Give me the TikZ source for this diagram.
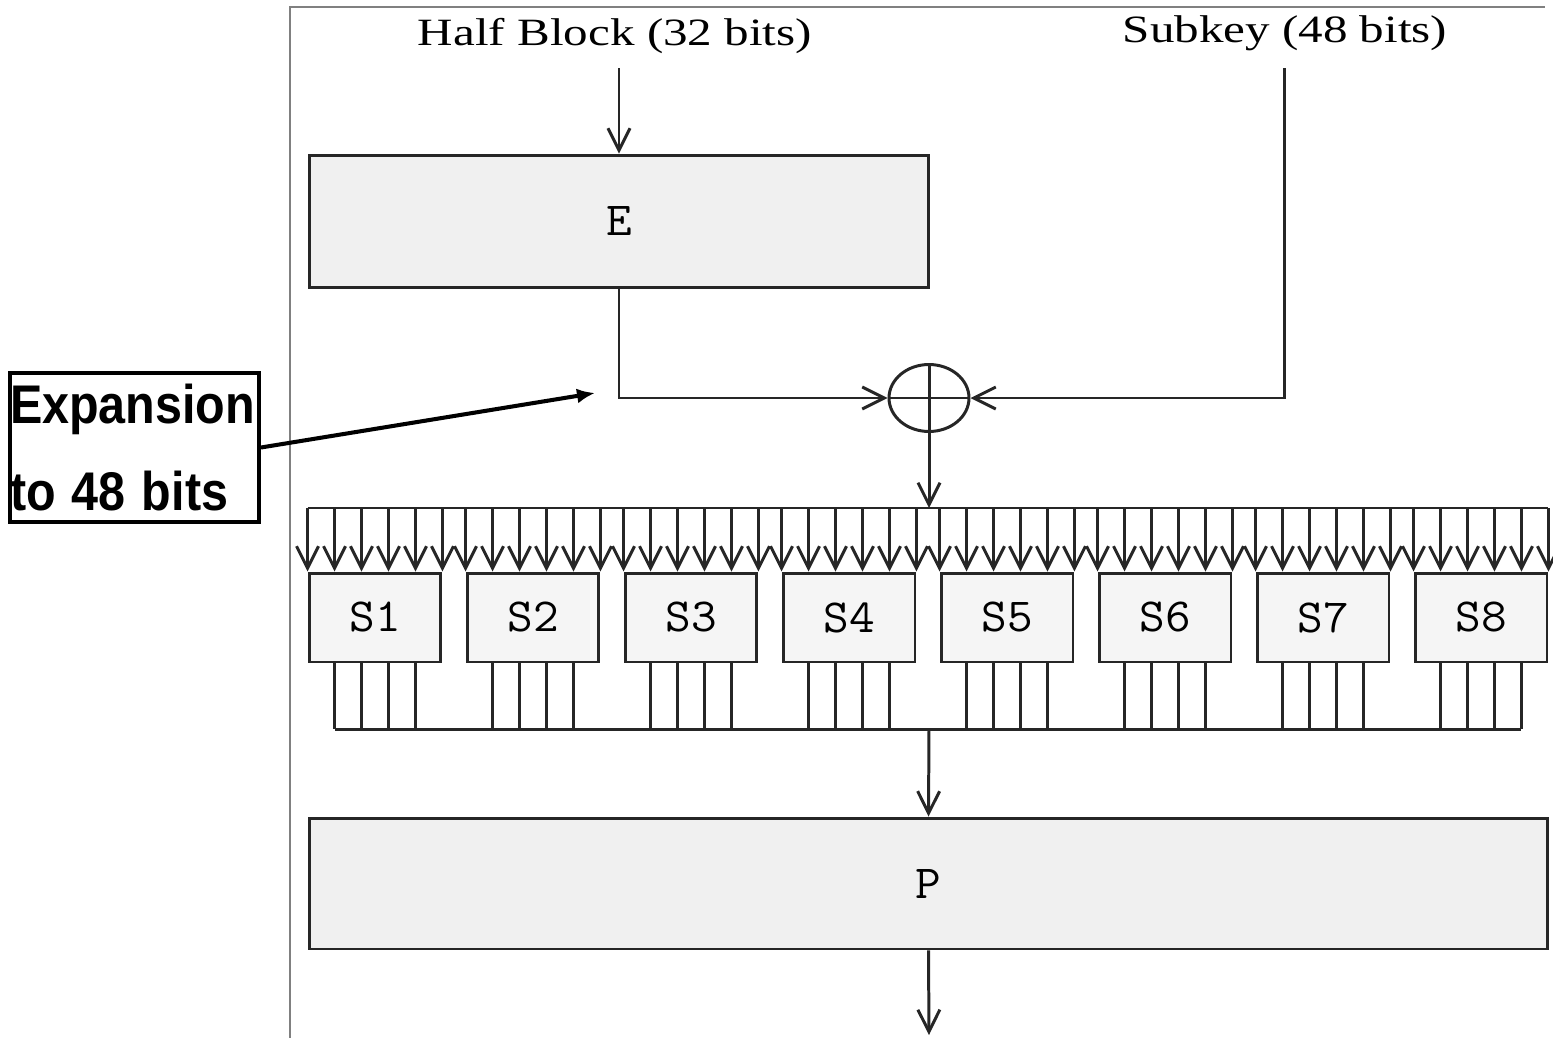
\documentclass[tikz,border=0pt]{standalone}
\usepackage{fontspec}
\setmainfont{Liberation Serif}
\newfontfamily\notefont{Liberation Sans}
\usetikzlibrary{arrows.meta,shapes.geometric,calc}
\newcommand{\wide}[2]{\scalebox{#1}[1]{#2}}

\begin{document}
\begin{tikzpicture}[x=0.02cm, y=-0.02cm,
  wire/.style={line width=1.7pt, draw=black!85},
  arr/.style={wire, -{Straight Barb[length=4.4mm,width=4.4mm]}},
  blk/.style={draw=black!85, line width=1.7pt, fill=gray!12, inner sep=0pt, font=\ttfamily\fontsize{27}{27}\selectfont},
  sbox/.style={blk, fill=gray!8, minimum width=2.64cm, minimum height=1.78cm},
  title/.style={font=\fontsize{22}{26}\selectfont, inner sep=0pt},
  note/.style={draw=black, line width=2.3pt, inner sep=0pt, align=left, text width=4.98cm, minimum height=2.98cm, font=\notefont\bfseries\fontsize{31}{49}\selectfont}]
\useasboundingbox (0,0) rectangle (1553,1038);
\draw[gray, line width=0.6pt] (290,1038) -- (290,7) -- (1545,7);
% labels and blocks
\node[title] (half) at (615,36) {\wide{1.27}{Half Block (32 bits)}};
\node[title] (subkey) at (1285,33) {\wide{1.27}{Subkey (48 bits)}};
\node[blk, minimum width=12.4cm, minimum height=2.66cm] (E) at (619,221.5) {\wide{1.05}{E}};
\node[draw=black!85, line width=1.7pt, ellipse, minimum width=1.6cm, minimum height=1.34cm, inner sep=0pt] (xor) at (929,398) {};
\foreach \k in {1,...,8}
  \node[sbox] (S\k) at ({375+158*(\k-1)},617.5) {\wide{1.05}{S\k}};
\node[blk, minimum width=24.78cm, minimum height=2.62cm] (P) at (928.5,883.5) {\wide{1.05}{P}};
\node[note] (expand) at (134.5,447.5) {\wide{0.89}{Expansion}\\\wide{0.89}{to 48 bits}};
\coordinate (halfout) at (E.north |- 0,68);
\coordinate (keyout) at (1284,68);
\coordinate (busin) at (929,508);
\coordinate (busout) at (929,729);
\coordinate (result) at (929,1035);
\coordinate (pointer) at (595,393);
% connectors
\draw[arr] (halfout) -- (E.north);
\draw[arr] (E.south) |- (xor.west);
\draw[arr] (keyout) |- (xor.east);
\draw[wire] (xor.north) -- (xor.south) (xor.west) -- (xor.east);
\draw[arr] (xor.south) -- (busin);
\foreach \k in {1,...,8}{
  \foreach \i in {0,...,5}{
    \coordinate (in\k-\i) at ($(S\k.north west)!\i/5!(S\k.north east)$);
    \draw[arr] (in\k-\i |- busin) -- (in\k-\i);
  }
  \foreach \i in {1,...,4}{
    \coordinate (out\k-\i) at ($(S\k.south west)!\i/5!(S\k.south east)$);
    \draw[wire] (out\k-\i) -- (out\k-\i |- busout);
  }
}
\draw[wire] (in1-0 |- busin) -- (in8-5 |- busin);
\draw[wire] (out1-1 |- busout) -- (out8-4 |- busout);
\draw[arr] (busout) -- (P.north);
\draw[arr] (P.south) -- (result);
\draw[line width=2.3pt, -{Latex[length=3.6mm,width=3mm]}] (expand.east) -- (pointer);
\end{tikzpicture}
\end{document}
